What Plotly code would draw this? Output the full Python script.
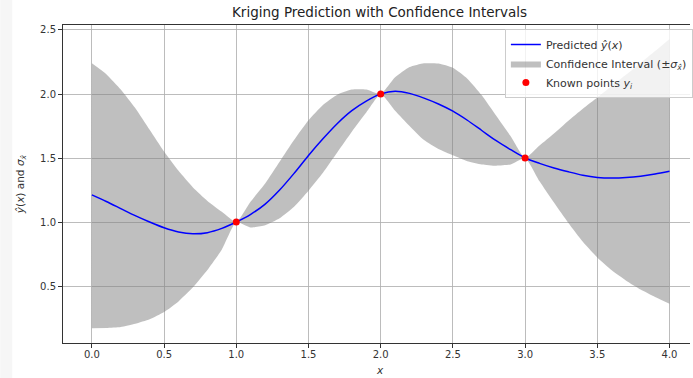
import plotly.graph_objects as go

# x grid of the prediction
x_pred = [round(i * 0.1, 1) for i in range(41)]

# predicted mean y_hat(x)
y_hat = [
    1.212, 1.160, 1.105, 1.050, 1.000, 0.955, 0.922, 0.908, 0.917, 0.950,
    1.000, 1.060, 1.140, 1.250, 1.380, 1.520, 1.650, 1.770, 1.870, 1.945,
    2.000, 2.022, 2.005, 1.968, 1.922, 1.866, 1.795, 1.715, 1.635, 1.565,
    1.500, 1.458, 1.422, 1.392, 1.365, 1.348, 1.343, 1.347, 1.358, 1.375,
    1.396,
]

# upper edge of the confidence band
ci_upper = [
    2.240, 2.155, 2.035, 1.890, 1.720, 1.550, 1.400, 1.270, 1.165, 1.080,
    1.000, 1.160, 1.300, 1.470, 1.640, 1.795, 1.915, 1.995, 2.035, 2.035,
    2.000, 2.130, 2.210, 2.240, 2.238, 2.205, 2.120, 1.990, 1.830, 1.670,
    1.500, 1.598, 1.692, 1.792, 1.885, 1.973, 2.063, 2.152, 2.243, 2.335,
    2.430,
]

# lower edge of the confidence band
ci_lower = [
    0.171, 0.172, 0.180, 0.205, 0.240, 0.297, 0.380, 0.490, 0.625, 0.785,
    1.000, 0.958, 0.975, 1.030, 1.120, 1.245, 1.385, 1.545, 1.705, 1.855,
    2.000, 1.870, 1.750, 1.640, 1.570, 1.521, 1.475, 1.450, 1.440, 1.450,
    1.500, 1.318, 1.152, 0.992, 0.845, 0.723, 0.623, 0.542, 0.473, 0.415,
    0.362,
]

# known sample points
x_known = [1.0, 2.0, 3.0]
y_known = [1.0, 2.0, 1.5]

x_ticks = [0.0, 0.5, 1.0, 1.5, 2.0, 2.5, 3.0, 3.5, 4.0]
y_ticks = [0.5, 1.0, 1.5, 2.0, 2.5]

FONT = "DejaVu Sans"
TXT = "#333333"

fig = go.Figure()

fig.add_trace(go.Scatter(
    x=x_pred, y=ci_lower, mode="lines",
    line=dict(width=0, color="rgba(128,128,128,0)", shape="spline", smoothing=0.5),
    showlegend=False, hoverinfo="skip",
))
fig.add_trace(go.Scatter(
    x=x_pred, y=ci_upper, mode="lines", fill="tonexty",
    fillcolor="rgba(128,128,128,0.5)",
    line=dict(width=0, color="rgba(128,128,128,0.5)", shape="spline", smoothing=0.5),
    name="Confidence Interval (±<i>σ</i><sub><i>x̂</i></sub>)",
    legendrank=2,
))
fig.add_trace(go.Scatter(
    x=x_pred, y=y_hat, mode="lines",
    line=dict(width=1.5, color="#0000ff", shape="spline", smoothing=0.8),
    name="Predicted <i>ŷ</i>(<i>x</i>)",
    legendrank=1,
))
fig.add_trace(go.Scatter(
    x=x_known, y=y_known, mode="markers",
    marker=dict(size=7, color="#ff0000"),
    name="Known points <i>y<sub>i</sub></i>",
    legendrank=3,
))

axis_common = dict(
    showgrid=True, gridcolor="rgba(176,176,176,0.85)", gridwidth=1,
    showline=True, linecolor="#333333", linewidth=1,
    ticks="outside", ticklen=4, tickcolor="#333333", tickwidth=1,
    tickfont=dict(family=FONT, size=10, color=TXT),
    zeroline=False, automargin=False,
)

fig.update_layout(
    width=693, height=378,
    margin=dict(l=63, r=0, t=25, b=35),
    paper_bgcolor="white", plot_bgcolor="white",
    xaxis=dict(
        range=[-0.2, 4.142], tickvals=x_ticks, tickformat=".1f",
        mirror=True, ticklabelstandoff=-2,
        **axis_common,
    ),
    yaxis=dict(
        range=[0.055, 2.539], tickvals=y_ticks, tickformat=".1f",
        **axis_common,
    ),
    legend=dict(
        x=(507 - 63) / 630, y=(343 - 29) / 318, xanchor="left", yanchor="top",
        bgcolor="rgba(255,255,255,0.8)", bordercolor="#cccccc", borderwidth=1,
        font=dict(family=FONT, size=11, color=TXT),
        traceorder="normal", tracegroupgap=0,
    ),
    annotations=[
        dict(text="Kriging Prediction with Confidence Intervals",
             xref="paper", yref="paper", x=(381 - 63) / 630, y=(343 - 12) / 318,
             xanchor="center", yanchor="middle", showarrow=False,
             font=dict(family=FONT, size=13.5, color="#222222")),
        dict(text="<i>x</i>",
             xref="paper", yref="paper", x=(382 - 63) / 630, y=(343 - 370) / 318,
             xanchor="center", yanchor="middle", showarrow=False,
             font=dict(family=FONT, size=10.5, color=TXT)),
        dict(text="<i>ŷ</i>(<i>x</i>) and <i>σ</i><sub><i>x̂</i></sub>",
             xref="paper", yref="paper", x=(21 - 63) / 630, y=0.5,
             xanchor="center", yanchor="middle", showarrow=False, textangle=-90,
             font=dict(family=FONT, size=10.5, color=TXT)),
    ],
    shapes=[dict(
        type="rect", xref="paper", yref="paper",
        x0=-63 / 630, x1=-51 / 630, y0=-35 / 318, y1=378 / 318,
        fillcolor="#f6f6f6", line=dict(width=0), layer="below",
    )],
)

fig.write_html(
    "out.html",
    config={"displayModeBar": False},
    post_script="document.body.style.margin='0';document.body.style.overflow='hidden';",
)
